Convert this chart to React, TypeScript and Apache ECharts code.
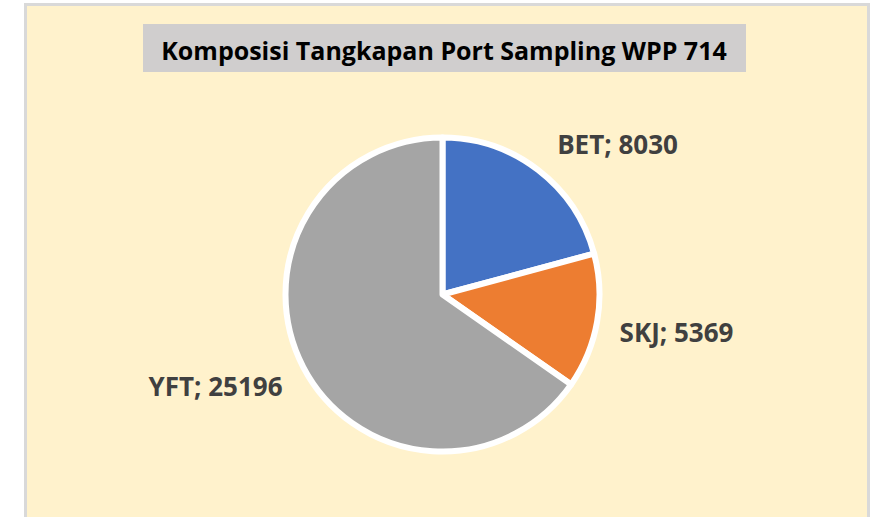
import React, { useEffect, useRef } from "react";
import * as echarts from "echarts";

const titleText = "Komposisi Tangkapan Port Sampling WPP 714";
const categories = ["BET", "SKJ", "YFT"];
const values = [8030, 5369, 25196];
const colors = ["#4472C4", "#ED7D31", "#A5A5A5"];
const labelCenters = [
  [617.5, 143.5],
  [676.5, 331.5],
  [215.5, 385.5],
];

export default function App() {
  const ref = useRef<HTMLDivElement>(null);
  useEffect(() => {
    document.body.style.margin = "0";
    if (!ref.current) return;
    const chart = echarts.init(ref.current, null, { renderer: "svg" });
    chart.setOption({
      animation: false,
      backgroundColor: "#FFFFFF",
      graphic: [
        {
          type: "rect",
          z: -10,
          shape: { x: 25.5, y: 4.5, width: 843, height: 530 },
          style: { fill: "#FFF2CC", stroke: "#D9D9D9", lineWidth: 3 },
        },
        {
          type: "rect",
          z: -5,
          shape: { x: 143, y: 24, width: 603, height: 48 },
          style: { fill: "#D0CECE" },
        },
        {
          type: "text",
          z: 10,
          x: 444,
          y: 50,
          style: {
            text: titleText,
            fill: "#000000",
            font: "bold 25px 'Open Sans'",
            align: "center",
            verticalAlign: "middle",
          },
        },
      ],
      series: [
        {
          type: "pie",
          center: [442.5, 294.5],
          radius: 157,
          startAngle: 90,
          clockwise: true,
          itemStyle: { borderColor: "#FFFFFF", borderWidth: 6 },
          label: {
            show: true,
            position: "outside",
            formatter: "{b}; {c}",
            color: "#404040",
            fontFamily: "Open Sans",
            fontWeight: "bold",
            fontSize: 26,
          },
          labelLine: { show: false },
          labelLayout: (params: any) => {
            const c = labelCenters[params.dataIndex];
            return { x: c[0], y: c[1], align: "center", verticalAlign: "middle" };
          },
          emphasis: { disabled: true },
          data: categories.map((name, i) => ({
            name,
            value: values[i],
            itemStyle: { color: colors[i] },
          })),
        },
      ],
    });
    return () => chart.dispose();
  }, []);
  return <div ref={ref} style={{ width: 874, height: 517 }} />;
}
